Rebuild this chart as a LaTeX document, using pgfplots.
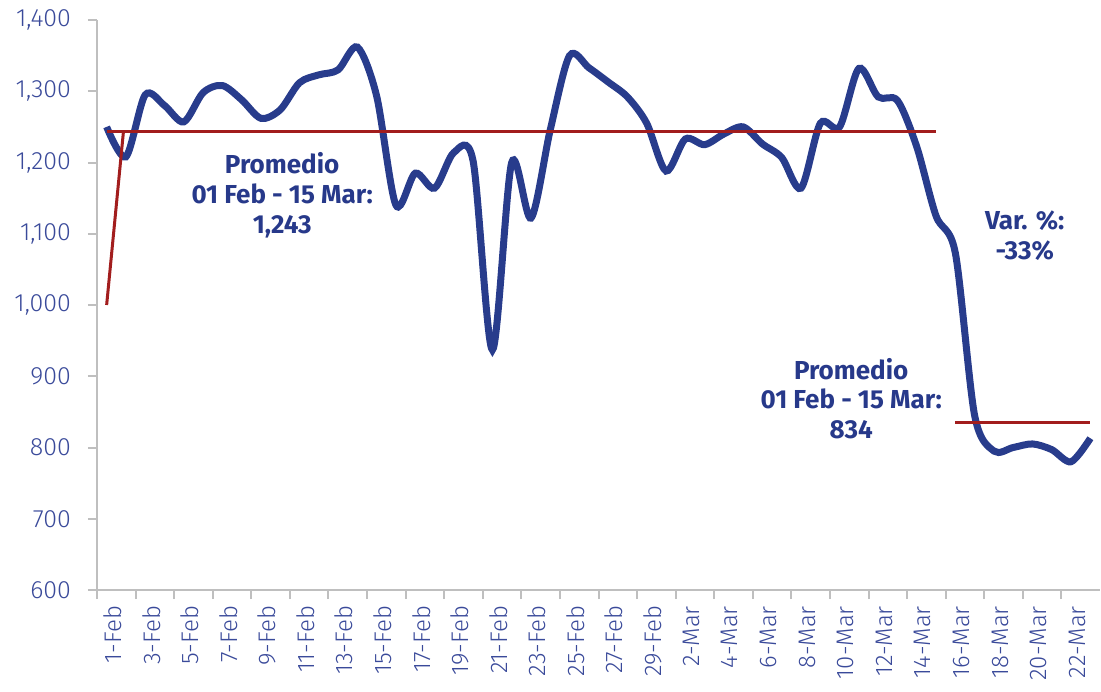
\documentclass[border=0pt]{standalone}
\usepackage{fontspec}
\setmainfont{Fira Sans}
\newfontfamily\lightfont{Fira Sans Light}
\usepackage{pgfplots}
\pgfplotsset{compat=1.18}
\definecolor{lineblue}{HTML}{283C8C}
\definecolor{txtblue}{HTML}{3A4A9A}
\definecolor{annblue}{HTML}{27398A}
\definecolor{avgred}{HTML}{A21D1D}
\definecolor{axgray}{HTML}{BFBFBF}
\pgfplotstableread{
idx val
0 1250
1 1208
2 1295
3 1280
4 1257
5 1298
6 1308
7 1288
8 1262
9 1274
10 1312
11 1323
12 1330
13 1362
14 1293
15 1140
16 1185
17 1164
18 1214
19 1202
20 937
21 1200
22 1122
23 1246
24 1350
25 1333
26 1313
27 1292
28 1255
29 1188
30 1233
31 1225
32 1240
33 1250
34 1226
35 1207
36 1164
37 1255
38 1250
39 1332
40 1292
41 1287
42 1222
43 1125
44 1073
45 845
46 795
47 800
48 805
49 797
50 780
51 813
}\datatable
\begin{document}
\begin{tikzpicture}
\begin{axis}[
  scale only axis, width=501.5pt, height=285pt,
  xmin=-0.5, xmax=51.5, ymin=600, ymax=1400,
  axis x line*=bottom, axis y line*=left,
  axis line style={axgray, line width=1pt},
  ytick={600,700,...,1400},
  xtick={0,2,...,50},
  xticklabels={1-Feb,3-Feb,5-Feb,7-Feb,9-Feb,11-Feb,13-Feb,15-Feb,17-Feb,19-Feb,21-Feb,23-Feb,25-Feb,27-Feb,29-Feb,2-Mar,4-Mar,6-Mar,8-Mar,10-Mar,12-Mar,14-Mar,16-Mar,18-Mar,20-Mar,22-Mar},
  minor xtick={-0.5,1.5,...,49.5},
  major x tick style={draw=none},
  minor x tick style={axgray, line width=1pt},
  major y tick style={axgray, line width=1pt},
  tick align=outside,
  major tick length=4.5pt, minor tick length=4.5pt,
  xticklabel style={rotate=90, anchor=east, yshift=-3pt, font=\lightfont\fontsize{12}{12}\selectfont, text=txtblue},
  yticklabel style={xshift=-5pt, font=\lightfont\fontsize{12.5}{12.5}\selectfont, text=txtblue},
  /pgf/number format/.cd, 1000 sep={,}, assume math mode=true,
]
\addplot[lineblue, line width=3.5pt, smooth, tension=0.5] table[x=idx, y=val] {\datatable};
\addplot[avgred, line width=1.5pt] coordinates {(0,1243) (43,1243)};
\addplot[avgred, line width=1.5pt] coordinates {(0,1000) (0.87,1243)};
\addplot[avgred, line width=1.5pt] coordinates {(44,835) (51,835)};
\node[align=center, text=annblue, font=\bfseries\fontsize{13}{14.8}\selectfont] at (axis cs:9.1,1154) {Promedio\\01 Feb - 15 Mar:\\1,243};
\node[align=center, text=annblue, font=\bfseries\fontsize{13}{14.8}\selectfont] at (axis cs:47.6,1097) {Var. \%:\\-33\%};
\node[align=center, text=annblue, font=\bfseries\fontsize{13}{14.8}\selectfont] at (axis cs:38.6,869) {Promedio\\01 Feb - 15 Mar:\\834};
\end{axis}
\pgfresetboundingbox
\path[use as bounding box] ([xshift=-48.5pt,yshift=-50.5pt]current axis.south west) rectangle ([xshift=0.5pt,yshift=10pt]current axis.north east);
\end{tikzpicture}
\end{document}
